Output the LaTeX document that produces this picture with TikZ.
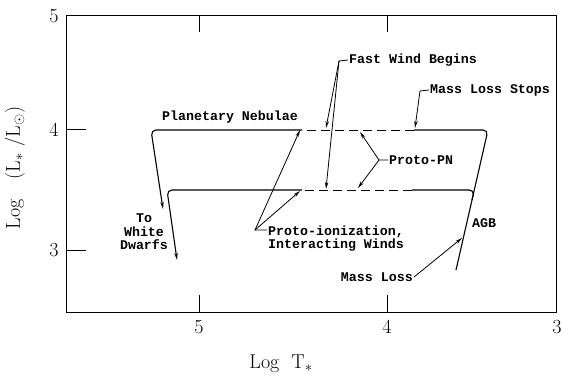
\documentclass[tikz,border=0pt]{standalone}
\usepackage{fontspec}
\newfontfamily\notefont{Liberation Mono}
\usetikzlibrary{arrows.meta}

\begin{document}
\begin{tikzpicture}[
    x=1pt, y=-1pt,
    frame/.style={line width=1pt},
    track/.style={line width=1.1pt, rounded corners=5pt},
    gap/.style={line width=0.9pt, dash pattern=on 9pt off 5pt},
    tracktip/.style={-{Stealth[length=7pt, width=3.4pt]}},
    pointer/.style={line width=0.8pt, -{Stealth[length=7pt, width=3.4pt]}},
    note/.style={font=\notefont\bfseries\fontsize{13.3}{13.5}\selectfont, inner sep=1pt},
    num/.style={font=\fontsize{20}{22}\selectfont, inner sep=1pt},
  ]
    \useasboundingbox (0,0) rectangle (570,385);
    % axes box and ticks
    \draw[frame] (66,15.5) rectangle (556,312);
    \draw[frame] (199,15.5) -- ++(0,17);
    \draw[frame] (387,15.5) -- ++(0,17);
    \draw[frame] (199,312) -- ++(0,-17);
    \draw[frame] (387,312) -- ++(0,-17);
    \draw[frame] (66,130) -- ++(20,0);
    \draw[frame] (66,250) -- ++(20,0);
    \node[num] (y5) at (54,16) {5};
    \node[num] (y4) at (54,130) {4};
    \node[num] (y3) at (54,250) {3};
    \node[num] (x5) at (199,327) {5};
    \node[num] (x4) at (387,327) {4};
    \node[num] (x3) at (557,327) {3};
    \node[num, rotate=90] (ylab) at (15,168) {Log\quad(L$_*$\,\,/L$_\odot$)};
    \node[num] (xlab) at (281,364) {Log\ \ T$_*$};
    % upper track
    \coordinate (agb0) at (456,270);
    \coordinate (agbtop) at (488,130);
    \draw[track] (agb0) -- (agbtop) -- (414,130);
    \draw[gap] (414,130) -- (302,130);
    \draw[track, tracktip] (302,130) -- (151,130) -- (163,209);
    % lower track
    \draw[track] (472,200) -- (474.4,190) -- (412,190);
    \draw[gap] (412,190) -- (302,190);
    \draw[track, tracktip] (302,190) -- (167,190) -- (177,260);
    % arrow targets
    \coordinate (fwU) at (326,128);
    \coordinate (fwL) at (326,189);
    \coordinate (mls) at (415,128);
    \coordinate (ppU) at (360,132);
    \coordinate (ppL) at (358,188);
    \coordinate (piU) at (300,130);
    \coordinate (piL) at (300,191);
    \coordinate (ml) at (462,238);
    % labels
    \node[note] (pn) at (230,117) {Planetary Nebulae};
    \node[note, anchor=west] (fast) at (348,60) {Fast Wind Begins};
    \node[note, anchor=west] (stops) at (429,90) {Mass Loss Stops};
    \node[note, anchor=west] (ppn) at (388,160) {Proto-PN};
    \node[note, anchor=west, align=left] (proto) at (267,238.5) {Proto-ionization,\\Interacting Winds};
    \node[note, align=center] (wd) at (144,232) {To\\White\\Dwarfs};
    \node[note, anchor=west] (agb) at (471,223) {AGB};
    \node[note, anchor=east] (loss) at (414,277) {Mass Loss};
    % connectors
    \coordinate (fastj) at (339,61);
    \draw[pointer] (fast.west) -- (fastj) -- (fwU);
    \draw[pointer] (fastj) -- (fwL);
    \coordinate (stopsj) at (420,91);
    \draw[pointer] (stops.west) -- (stopsj) -- (mls);
    \coordinate (ppnj) at (379,160);
    \draw[pointer] (ppn.west) -- (ppnj) -- (ppU);
    \draw[pointer] (ppnj) -- (ppL);
    \coordinate (protoj) at (255,230);
    \draw[pointer] (proto.west |- protoj) -- (protoj) -- (piU);
    \draw[pointer] (protoj) -- (piL);
    \draw[pointer] (loss.east) -- (ml);
  \end{tikzpicture}
\end{document}
